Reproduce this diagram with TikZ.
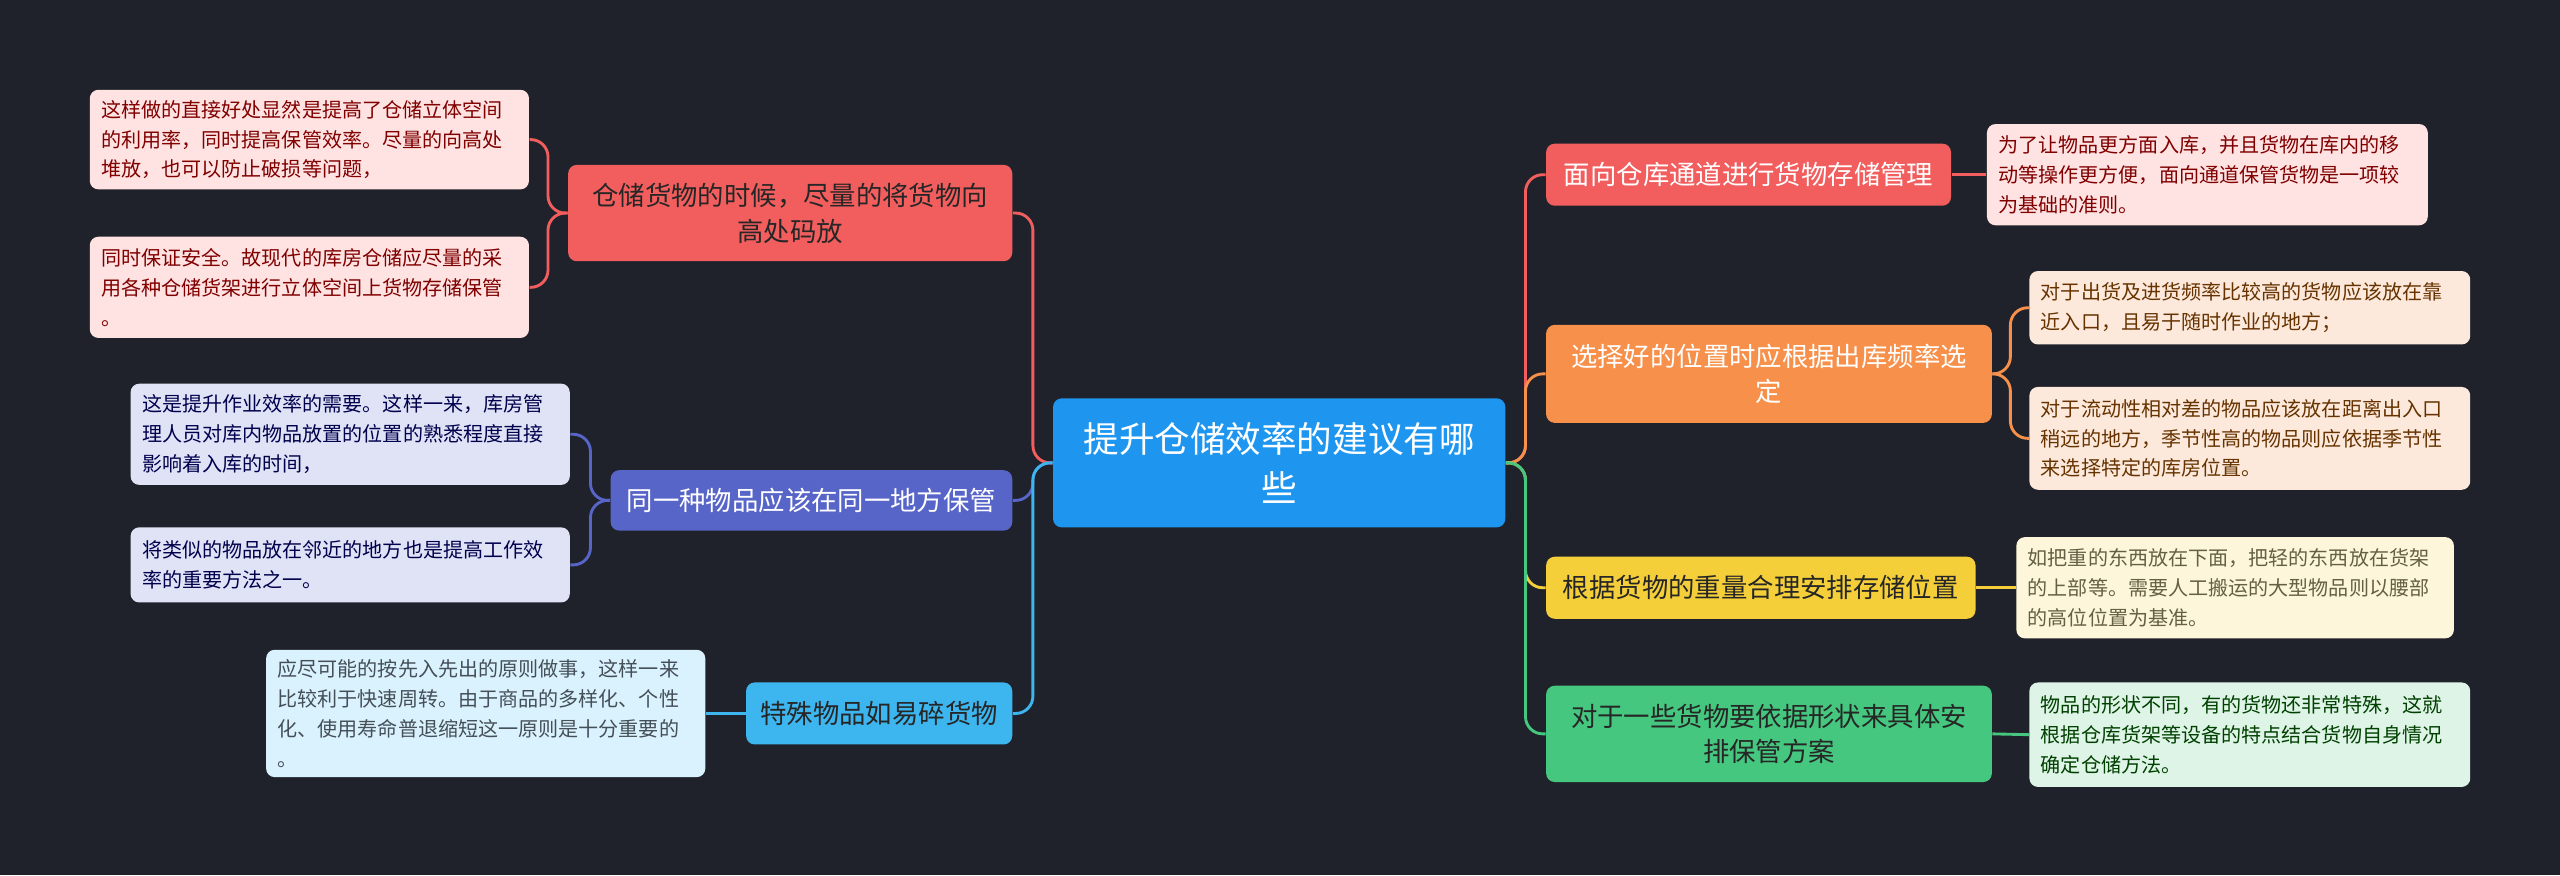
\documentclass[tikz,border=0pt]{standalone}
\usepackage{fontspec}
\setmainfont{Noto Sans CJK SC}
\definecolor{bg}{RGB}{31,34,42}
\definecolor{cblue}{RGB}{30,150,240}
\definecolor{cred}{RGB}{242,94,94}
\definecolor{cora}{RGB}{247,144,74}
\definecolor{cyel}{RGB}{245,207,58}
\definecolor{cgrn}{RGB}{69,199,127}
\definecolor{cind}{RGB}{88,101,200}
\definecolor{clb}{RGB}{61,181,238}
\definecolor{lred}{RGB}{255,226,226}
\definecolor{lora}{RGB}{253,233,220}
\definecolor{lyel}{RGB}{253,246,218}
\definecolor{lgrn}{RGB}{222,244,231}
\definecolor{lind}{RGB}{224,226,246}
\definecolor{llb}{RGB}{218,242,253}
\tikzset{
 box/.style={rounded corners=3pt,inner sep=0pt},
 br/.style={box,font=\fontsize{9.2pt}{12.5pt}\selectfont,align=center},
 leaf/.style={box,font=\fontsize{7pt}{10.4pt}\selectfont,align=left},
 con/.style={line width=1pt,rounded corners=6pt},
}
\newcommand{\bx}[7]{\node[#6,minimum width={(#4-#2)*0.02cm},minimum height={(#5-#3)*0.02cm}] (#1) at ({(#2+#4)/2},{(#3+#5)/2}) {#7};}
\newcommand{\lf}[8]{\node[leaf,fill=#6,text=#7,minimum width={(#4-#2)*0.02cm},minimum height={(#5-#3)*0.02cm},text width={(#4-#2-14)*0.02cm}] (#1) at ({(#2+#4)/2},{(#3+#5)/2}) {#8};}
\begin{document}
\begin{tikzpicture}[x=0.02cm,y=-0.02cm]
\fill[bg] (0,0) rectangle (1568,536);
\useasboundingbox (0,0) rectangle (1568,536);
% center
\bx{c}{645}{244}{922}{323}{box,fill=cblue,text=white,font=\fontsize{12.4pt}{17pt}\selectfont,align=center}{提升仓储效率的建议有哪\\些}
% right branches
\bx{r1}{947}{88}{1195}{126}{br,fill=cred,text=white}{面向仓库通道进行货物存储管理}
\bx{r2}{947}{199}{1220}{259}{br,fill=cora,text=white}{选择好的位置时应根据出库频率选\\定}
\bx{r3}{947}{341}{1210}{379}{br,fill=cyel,text=black!85}{根据货物的重量合理安排存储位置}
\bx{r4}{947}{420}{1220}{479}{br,fill=cgrn,text=black!85}{对于一些货物要依据形状来具体安\\排保管方案}
% left branches
\bx{l1}{348}{101}{620}{160}{br,fill=cred,text=black!85}{仓储货物的时候，尽量的将货物向\\高处码放}
\bx{l2}{374}{288}{620}{325}{br,fill=cind,text=white}{同一种物品应该在同一地方保管}
\bx{l3}{457}{418}{620}{456}{br,fill=clb,text=black!85}{特殊物品如易碎货物}
% leaves right
\lf{a1}{1217}{76}{1487}{138}{lred}{red!50!black}{为了让物品更方面入库，并且货物在库内的移\\动等操作更方便，面向通道保管货物是一项较\\为基础的准则。}
\lf{a2}{1243}{166}{1513}{211}{lora}{orange!40!black}{对于出货及进货频率比较高的货物应该放在靠\\近入口，且易于随时作业的地方；}
\lf{a3}{1243}{237}{1513}{300}{lora}{orange!40!black}{对于流动性相对差的物品应该放在距离出入口\\稍远的地方，季节性高的物品则应依据季节性\\来选择特定的库房位置。}
\lf{a4}{1235}{329}{1503}{391}{lyel}{yellow!30!black}{如把重的东西放在下面，把轻的东西放在货架\\的上部等。需要人工搬运的大型物品则以腰部\\的高位位置为基准。}
\lf{a5}{1243}{418}{1513}{482}{lgrn}{green!25!black}{物品的形状不同，有的货物还非常特殊，这就\\根据仓库货架等设备的特点结合货物自身情况\\确定仓储方法。}
% leaves left
\lf{b1}{55}{55}{324}{116}{lred}{red!50!black}{这样做的直接好处显然是提高了仓储立体空间\\的利用率，同时提高保管效率。尽量的向高处\\堆放，也可以防止破损等问题，}
\lf{b2}{55}{145}{324}{207}{lred}{red!50!black}{同时保证安全。故现代的库房仓储应尽量的采\\用各种仓储货架进行立体空间上货物存储保管\\。}
\lf{b3}{80}{235}{349}{297}{lind}{blue!30!black}{这是提升作业效率的需要。这样一来，库房管\\理人员对库内物品放置的位置的熟悉程度直接\\影响着入库的时间，}
\lf{b4}{80}{323}{349}{369}{lind}{blue!30!black}{将类似的物品放在邻近的地方也是提高工作效\\率的重要方法之一。}
\lf{b5}{163}{398}{432}{476}{llb}{cyan!25!black}{应尽可能的按先入先出的原则做事，这样一来\\比较利于快速周转。由于商品的多样化、个性\\化、使用寿命普退缩短这一原则是十分重要的\\。}
% center connectors
\foreach \n/\col in {r1/cred,r2/cora,r3/cyel,r4/cgrn}{
 \draw[con,\col] (c.east) -- ++(12,0) |- (\n.west);}
\foreach \n/\col in {l1/cred,l2/cind,l3/clb}{
 \draw[con,\col] (c.west) -- ++(-12,0) |- (\n.east);}
% leaf connectors
\draw[con,cred] (r1.east) -- (a1.west);
\draw[con,cora] (r2.east) -- ++(11,0) |- (a2.west);
\draw[con,cora] (r2.east) -- ++(11,0) |- (a3.west);
\draw[con,cyel] (r3.east) -- (a4.west);
\draw[con,cgrn] (r4.east) -- (a5.west);
\draw[con,cred] (l1.west) -- ++(-12,0) |- (b1.east);
\draw[con,cred] (l1.west) -- ++(-12,0) |- (b2.east);
\draw[con,cind] (l2.west) -- ++(-12,0) |- (b3.east);
\draw[con,cind] (l2.west) -- ++(-12,0) |- (b4.east);
\draw[con,clb] (l3.west) -- (b5.east);
\end{tikzpicture}
\end{document}
